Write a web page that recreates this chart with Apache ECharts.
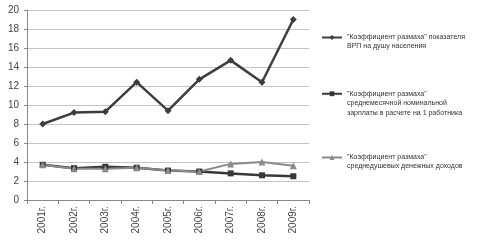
<!DOCTYPE html>
<html>
<head>
<meta charset="utf-8">
<script src="https://cdn.jsdelivr.net/npm/echarts@6/dist/echarts.min.js"></script>
<style>
  html, body { margin: 0; padding: 0; background: #fff; }
  #main { width: 479px; height: 245px; }
</style>
</head>
<body>
<div id="main"></div>
<script>
var years = ['2001г.', '2002г.', '2003г.', '2004г.', '2005г.', '2006г.', '2007г.', '2008г.', '2009г.']
var grpValues = [8.0, 9.2, 9.3, 12.4, 9.4, 12.7, 14.7, 12.4, 19.0]
var wageValues = [3.7, 3.35, 3.5, 3.4, 3.1, 3.0, 2.8, 2.6, 2.5]
var incomeValues = [3.7, 3.3, 3.3, 3.4, 3.1, 3.0, 3.8, 4.0, 3.6]
var seriesNames = [
  '"Коэффициент размаха" показателя\nВРП на душу населения',
  '"Коэффициент размаха"\nсреднемесячной номинальной\nзарплаты в расчете на 1 работника',
  '"Коэффициент размаха"\nсреднедушевых денежных доходов'
]

var myChart = echarts.init(document.getElementById('main'))

// легенда: три отдельных блока; пустые строки сверху, чтобы значок
// стоял на уровне первой строки текста
function legendAt(name, top, lh) {
  var lines = name.split('\n').length
  var pad = new Array(lines).join('\n')
  return {
    data: [name],
    left: 316,
    top: top,
    orient: 'vertical',
    itemWidth: 20,
    itemHeight: 6,
    itemGap: 0,
    formatter: function(n) { return pad + n },
    textStyle: {
      fontFamily: 'Liberation Sans, Arial, sans-serif',
      fontSize: 7,
      lineHeight: lh,
      color: '#333'
    }
  }
}

var option = {
  animation: false,
  grid: {
    left: 27,
    right: 170,
    top: 10,
    bottom: 45
  },
  legend: [
    legendAt(seriesNames[0], 19, 9),
    legendAt(seriesNames[1], 65, 9.5),
    legendAt(seriesNames[2], 139, 9)
  ],
  xAxis: {
    type: 'category',
    data: years,
    boundaryGap: true,
    axisLine: { lineStyle: { color: '#888', width: 1 } },
    axisTick: { show: true, alignWithLabel: false, length: 4, lineStyle: { color: '#888' } },
    axisLabel: {
      rotate: 90,
      margin: 6,
      color: '#444',
      fontSize: 10,
      fontFamily: 'Liberation Sans, Arial, sans-serif'
    }
  },
  yAxis: {
    type: 'value',
    min: 0,
    max: 20,
    interval: 2,
    axisLine: { show: true, lineStyle: { color: '#888' } },
    axisTick: { show: true, length: 3, lineStyle: { color: '#888' } },
    axisLabel: {
      margin: 8,
      color: '#444',
      fontSize: 10,
      fontFamily: 'Liberation Sans, Arial, sans-serif'
    },
    splitLine: { lineStyle: { color: '#c4c4c4', width: 1 } }
  },
  series: [
    {
      name: seriesNames[0],
      type: 'line',
      data: grpValues,
      symbol: 'diamond',
      symbolSize: 7,
      lineStyle: { color: '#3d3d3d', width: 2.5 },
      itemStyle: { color: '#3d3d3d' }
    },
    {
      name: seriesNames[1],
      type: 'line',
      data: wageValues,
      symbol: 'rect',
      symbolSize: 6,
      lineStyle: { color: '#383838', width: 2.5 },
      itemStyle: { color: '#383838' }
    },
    {
      name: seriesNames[2],
      type: 'line',
      data: incomeValues,
      symbol: 'triangle',
      symbolSize: 7,
      lineStyle: { color: '#8a8a8a', width: 2 },
      itemStyle: { color: '#8a8a8a' }
    }
  ]
}

myChart.setOption(option)
</script>
</body>
</html>
